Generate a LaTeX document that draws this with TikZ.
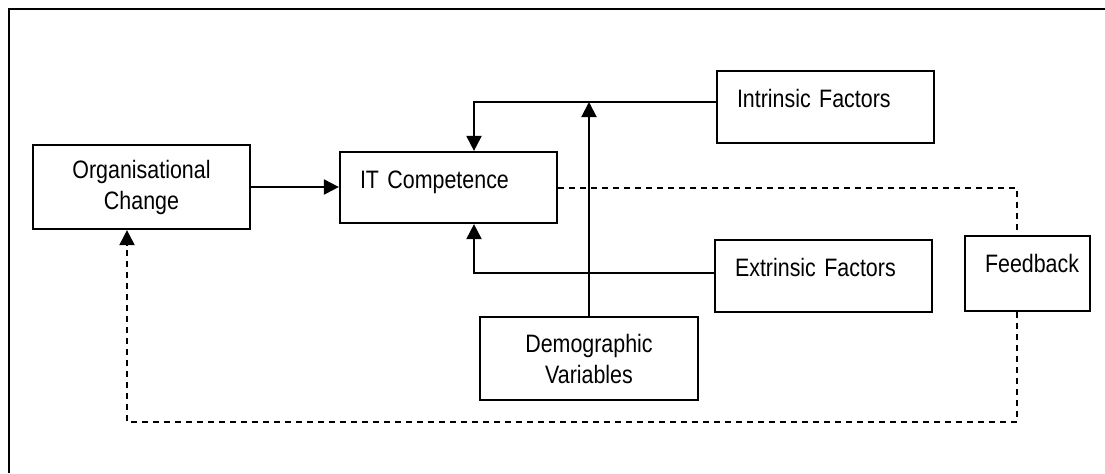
\documentclass[tikz,border=0pt]{standalone}
\usepackage{fontspec}
\setmainfont{Liberation Sans}[FakeStretch=0.85,WordSpace=0.8]
\usetikzlibrary{arrows.meta}

\begin{document}
\begin{tikzpicture}[x=0.5pt,y=-0.5pt,>={Triangle[length=7.5pt,width=7.5pt]}]
  % Styles
  \tikzstyle{frame line}=[line width=1.2pt]
  \tikzstyle{box}=[draw,line width=1.1pt,inner xsep=10pt,font=\fontsize{12.6}{15.5}\selectfont]
  \tikzstyle{factor box}=[box,text width=88.5pt,align=left,inner ysep=0pt,text height=18pt,text depth=18pt]
  \tikzstyle{twoline box}=[box,text width=88.5pt,align=center,minimum height=42pt]
  \tikzstyle{link}=[line width=1pt]
  \tikzstyle{feedback link}=[link,dash pattern=on 3pt off 2.5pt]

  \useasboundingbox (0,0) rectangle (1105,473);

  % The frame
  \draw[style=frame line] (1105,9) -- (9,9) -- (9,473);

  % The boxes
  \node[style=twoline box] (org) at (141.5,187) {Organisational\\Change};
  \node[style=factor box,text depth=17.5pt] (it) at (448.5,187.5) {IT Competence};
  \node[style=factor box] (intr) at (825.5,107) {Intrinsic Factors};
  \node[style=factor box] (extr) at (823.5,276) {Extrinsic Factors};
  \node[style=factor box,text width=42.5pt,align=center,text depth=19.5pt] (fb) at (1027.5,273.5) {Feedback};
  \node[style=twoline box,text width=89pt,minimum height=41.5pt] (demo) at (589,358.5) {Demographic\\Variables};

  % Points on the box sides
  \coordinate (introut) at ([yshift=2.5pt]intr.west);
  \coordinate (extrout) at ([yshift=1.5pt]extr.west);
  \coordinate (fbin) at ([xshift=-5.25pt]fb.north);
  \coordinate (fbout) at ([xshift=-5.25pt]fb.south);
  \coordinate (orgin) at ([xshift=-7.25pt]org.south);

  % The links
  \draw[style=link,->] (org.east) -- (org.east -| it.west);
  \draw[style=link,->] (introut) -| ([xshift=12.75pt]it.north);
  \draw[style=link,->] (extrout) -| ([xshift=12.75pt]it.south);
  \draw[style=link,->] (demo.north) -- (demo.north |- introut);

  \draw[style=feedback link] (it.east) -| (fbin);
  \draw[style=feedback link,->] (fbout) -- (fbout |- 0,422) -- (orgin |- 0,422) -- (orgin);

\end{tikzpicture}
\end{document}
